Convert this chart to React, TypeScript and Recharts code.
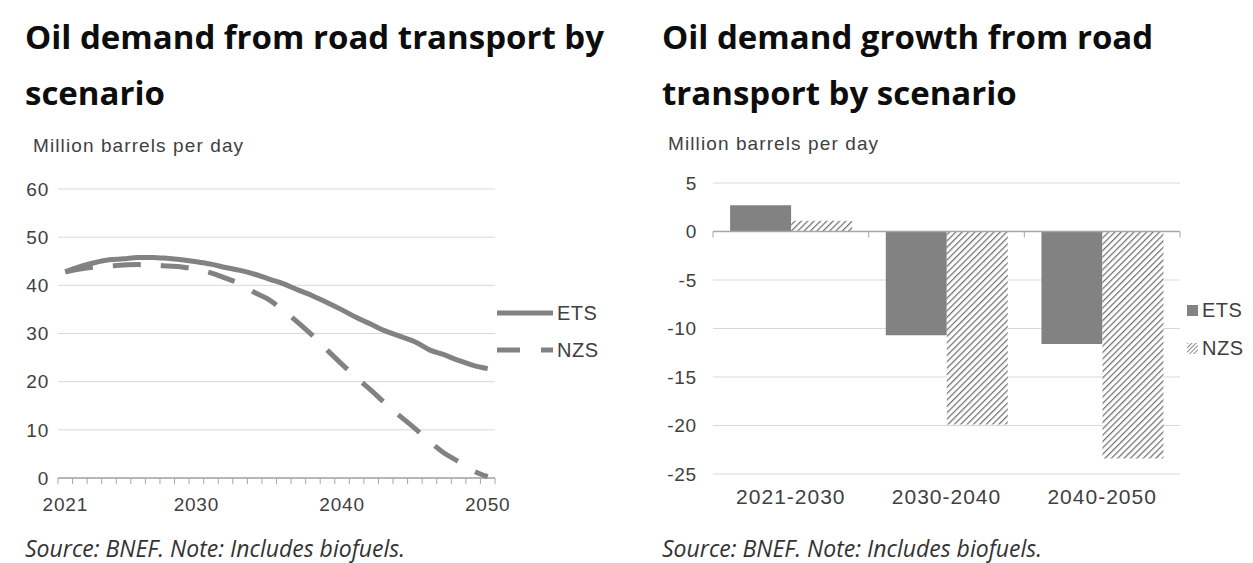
import React from "react";
import {
  LineChart,
  Line,
  BarChart,
  Bar,
  XAxis,
  YAxis,
  CartesianGrid,
  ReferenceLine,
} from "recharts";

const years = [
  2021, 2022, 2023, 2024, 2025, 2026, 2027, 2028, 2029, 2030,
  2031, 2032, 2033, 2034, 2035, 2036, 2037, 2038, 2039, 2040,
  2041, 2042, 2043, 2044, 2045, 2046, 2047, 2048, 2049, 2050,
];
const etsDemand = [
  42.8, 43.9, 44.7, 45.3, 45.5, 45.8, 45.8, 45.6, 45.3, 44.9,
  44.4, 43.7, 43.1, 42.3, 41.3, 40.3, 39.0, 37.8, 36.4, 34.9,
  33.3, 31.9, 30.5, 29.4, 28.3, 26.6, 25.6, 24.4, 23.4, 22.7,
];
const nzsDemand = [
  42.8, 43.4, 43.8, 44.0, 44.2, 44.3, 44.2, 44.0, 43.8, 43.3,
  42.6, 41.5, 40.3, 38.5, 37.0, 34.7, 32.2, 29.5, 26.5, 23.6,
  20.8, 18.2, 15.4, 12.8, 10.3, 7.6, 5.2, 3.4, 1.5, 0.3,
];
const demandTicks = [0, 10, 20, 30, 40, 50, 60];
const yearLabels = [2021, 2030, 2040, 2050];

const periods = ["2021-2030", "2030-2040", "2040-2050"];
const etsGrowth = [2.7, -10.7, -11.6];
const nzsGrowth = [1.1, -19.9, -23.4];
const growthTicks = [-25, -20, -15, -10, -5, 0, 5];

const scenarios = ["ETS", "NZS"];

const GREY = "#828282";
const GRID = "#d9d9d9";
const AXIS = "#a6a6a6";
const TEXT = "#404040";
const AXIS_FONT = "'Liberation Sans', Arial, sans-serif";
const TITLE_FONT = "'Open Sans', 'Noto Sans', sans-serif";

const demandData = years.map((y, i) => ({
  year: y,
  ETS: etsDemand[i],
  NZS: nzsDemand[i],
}));

const growthData = periods.map((p, i) => ({
  period: p,
  ETS: etsGrowth[i],
  NZS: nzsGrowth[i],
}));

// axis line along zero with small tick marks between categories
function zeroAxis(count: number) {
  return (props: any) => {
    const { x1, x2, y1 } = props;
    const step = (x2 - x1) / count;
    const marks = [];
    for (let i = 0; i <= count; i++) {
      const x = x1 + i * step;
      marks.push(<line key={i} x1={x} x2={x} y1={y1} y2={y1 + 6} stroke={AXIS} strokeWidth={1} />);
    }
    return (
      <g>
        <line x1={x1} x2={x2} y1={y1} y2={y1} stroke={AXIS} strokeWidth={1.5} />
        {marks}
      </g>
    );
  };
}

const titleStyle: React.CSSProperties = {
  position: "absolute",
  top: 9,
  fontFamily: TITLE_FONT,
  fontWeight: 700,
  fontSize: 33,
  lineHeight: "56px",
  color: "#0d0d0d",
  whiteSpace: "nowrap",
};

const unitStyle: React.CSSProperties = {
  position: "absolute",
  fontFamily: AXIS_FONT,
  fontSize: 19,
  letterSpacing: 1.1,
  color: TEXT,
  whiteSpace: "nowrap",
};

const noteStyle: React.CSSProperties = {
  position: "absolute",
  top: 535,
  fontFamily: TITLE_FONT,
  fontStyle: "italic",
  fontSize: 23,
  lineHeight: "26px",
  color: "#333",
  whiteSpace: "nowrap",
};

const legendText: React.CSSProperties = {
  fontFamily: AXIS_FONT,
  fontSize: 20,
  letterSpacing: 0.5,
  color: TEXT,
  marginLeft: 4,
};

const tickFont = { fill: TEXT, fontSize: 19, fontFamily: AXIS_FONT, letterSpacing: 0.8 };

function DemandLegend() {
  return (
    <div style={{ position: "absolute", left: 497, top: 301 }}>
      {scenarios.map((s, i) => (
        <div key={s} style={{ display: "flex", alignItems: "center", height: 24, marginBottom: 13 }}>
          <svg width={56} height={10}>
            <line
              x1={0}
              x2={56}
              y1={5}
              y2={5}
              stroke={GREY}
              strokeWidth={5}
              strokeDasharray={i === 1 ? "23 21" : undefined}
            />
          </svg>
          <span style={legendText}>{s}</span>
        </div>
      ))}
    </div>
  );
}

function GrowthLegend() {
  return (
    <div style={{ position: "absolute", left: 1187, top: 298 }}>
      {scenarios.map((s, i) => (
        <div key={s} style={{ display: "flex", alignItems: "center", height: 24, marginBottom: 14 }}>
          <svg width={11} height={11}>
            <defs>
              <pattern id="legendHatch" width="3" height="3" patternUnits="userSpaceOnUse" patternTransform="rotate(45)">
                <rect width="3" height="3" fill="#fff" />
                <line x1="0" y1="0" x2="0" y2="3" stroke="#666" strokeWidth="1.5" />
              </pattern>
            </defs>
            <rect width={11} height={11} fill={i === 1 ? "url(#legendHatch)" : GREY} />
          </svg>
          <span style={legendText}>{s}</span>
        </div>
      ))}
    </div>
  );
}

function DemandChart() {
  return (
    <div style={{ position: "absolute", left: 0, top: 160 }}>
      <LineChart
        width={626}
        height={370}
        data={demandData}
        margin={{ top: 29, right: 131, bottom: 12, left: 8 }}
      >
        <CartesianGrid vertical={false} stroke={GRID} />
        <XAxis
          dataKey="year"
          scale="band"
          interval={0}
          axisLine={false}
          tickLine={false}
          tickSize={0}
          tickMargin={20}
          height={40}
          tickFormatter={(v: number) => (yearLabels.includes(v) ? String(v) : "")}
          tick={tickFont}
        />
        <YAxis
          domain={[0, 60]}
          ticks={demandTicks}
          axisLine={false}
          tickLine={false}
          tickSize={0}
          tickMargin={9}
          width={50}
          tick={tickFont}
        />
        <ReferenceLine y={0} shape={zeroAxis(years.length)} />
        <Line
          dataKey="ETS"
          type="monotone"
          stroke={GREY}
          strokeWidth={5}
          dot={false}
          isAnimationActive={false}
        />
        <Line
          dataKey="NZS"
          type="monotone"
          stroke={GREY}
          strokeWidth={5}
          strokeDasharray="28 20"
          dot={false}
          isAnimationActive={false}
        />
      </LineChart>
    </div>
  );
}

function GrowthChart() {
  return (
    <div style={{ position: "absolute", left: 626, top: 160 }}>
      <BarChart
        width={627}
        height={370}
        data={growthData}
        margin={{ top: 23, right: 73, bottom: 12, left: 27 }}
        barCategoryGap="11%"
        barGap={0}
      >
        <defs>
          <pattern id="nzsHatch" width="4.5" height="4.5" patternUnits="userSpaceOnUse" patternTransform="rotate(45)">
            <rect width="4.5" height="4.5" fill="#fff" />
            <line x1="0" y1="0" x2="0" y2="4.5" stroke="#6e6e6e" strokeWidth="2.4" />
          </pattern>
        </defs>
        <CartesianGrid vertical={false} stroke={GRID} />
        <XAxis
          dataKey="period"
          axisLine={false}
          tickLine={false}
          tickSize={0}
          tickMargin={15}
          height={44}
          tick={{ ...tickFont, fontSize: 21, letterSpacing: 1 }}
        />
        <YAxis
          domain={[-25, 5]}
          ticks={growthTicks}
          axisLine={false}
          tickLine={false}
          tickSize={0}
          tickMargin={16}
          width={60}
          tick={tickFont}
        />
        <Bar dataKey="ETS" fill={GREY} isAnimationActive={false} />
        <Bar dataKey="NZS" fill="url(#nzsHatch)" isAnimationActive={false} />
        <ReferenceLine y={0} shape={zeroAxis(periods.length)} />
      </BarChart>
    </div>
  );
}

export default function App() {
  return (
    <div
      style={{
        position: "absolute",
        left: 0,
        top: 0,
        width: 1253,
        height: 563,
        background: "#fff",
        overflow: "hidden",
      }}
    >
      <div style={{ ...titleStyle, left: 25 }}>
        Oil demand from road transport by
        <br />
        scenario
      </div>
      <div style={{ ...titleStyle, left: 662 }}>
        Oil demand growth from road
        <br />
        transport by scenario
      </div>
      <div style={{ ...unitStyle, left: 33, top: 135 }}>Million barrels per day</div>
      <div style={{ ...unitStyle, left: 668, top: 133 }}>Million barrels per day</div>

      <DemandChart />
      <DemandLegend />
      <GrowthChart />
      <GrowthLegend />

      <div style={{ ...noteStyle, left: 25 }}>Source: BNEF. Note: Includes biofuels.</div>
      <div style={{ ...noteStyle, left: 662 }}>Source: BNEF. Note: Includes biofuels.</div>
    </div>
  );
}
